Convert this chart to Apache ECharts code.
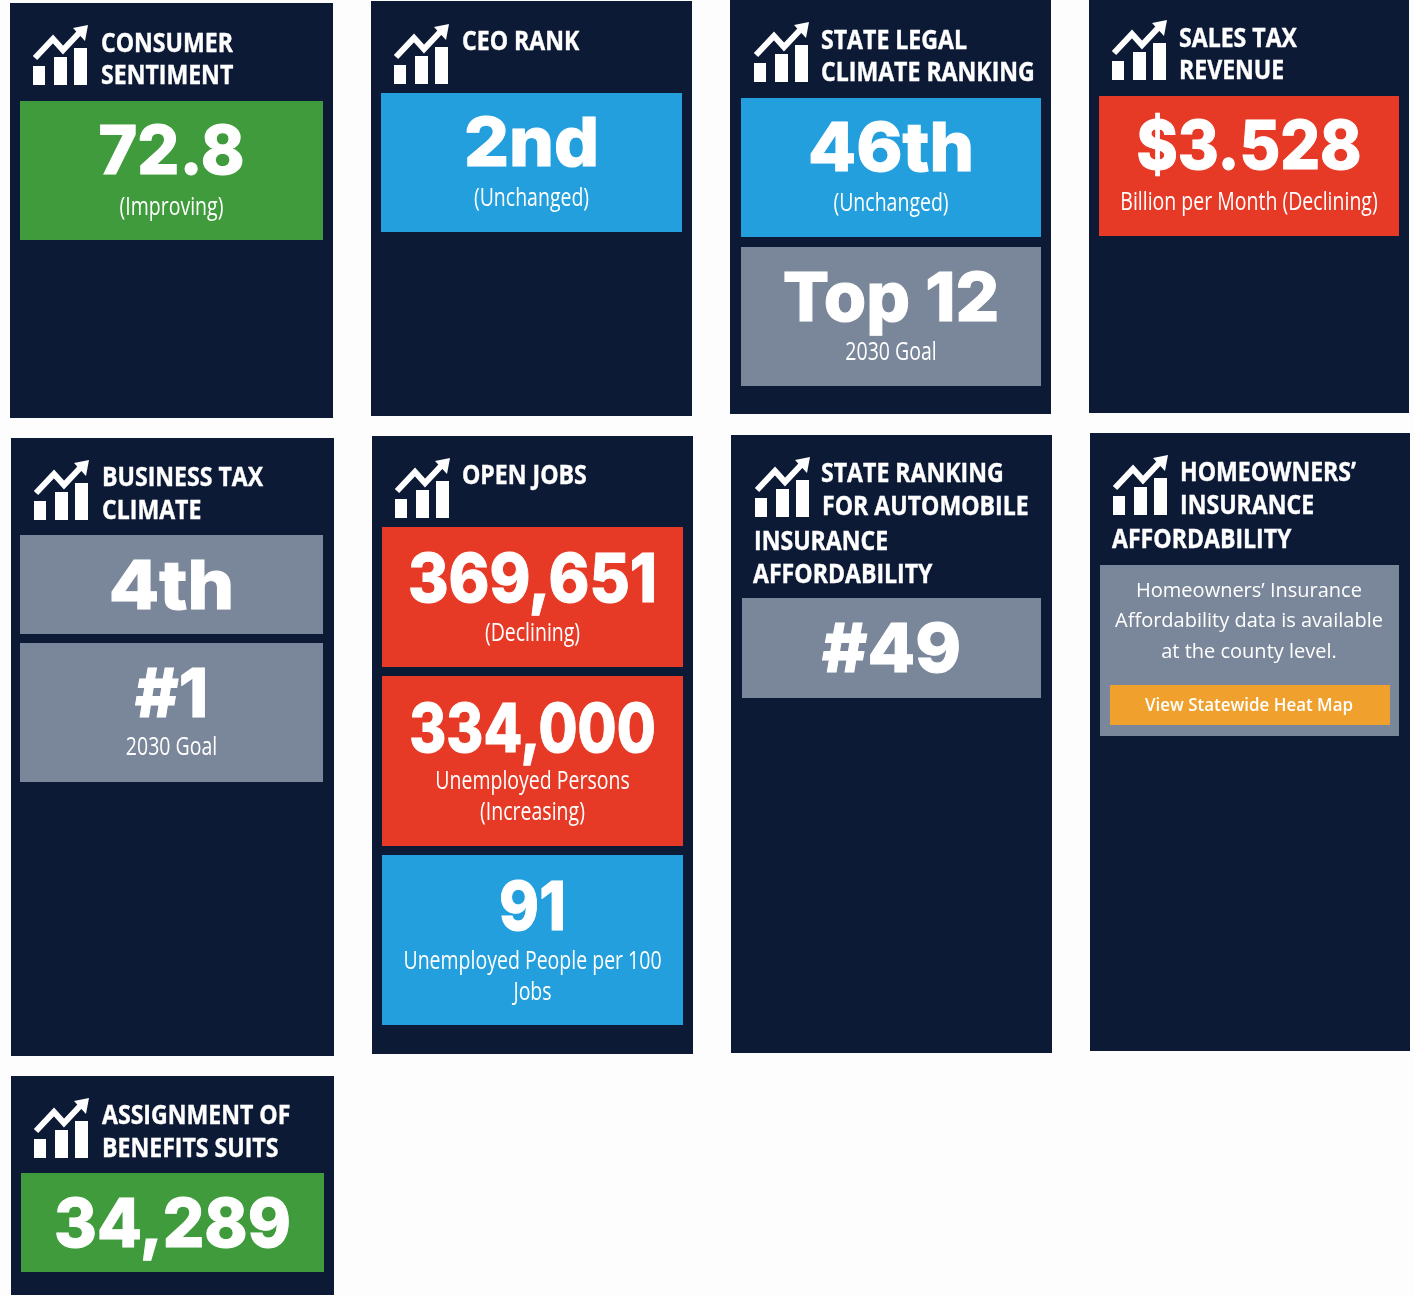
<!DOCTYPE html>
<html>

	<head>
		<meta charset="UTF-8">
		<title>Scorecard</title>
		<style>
			html, body { margin: 0; padding: 0; background: #fdfdfd; }
		</style>
		<script src="https://cdn.jsdelivr.net/npm/echarts@6/dist/echarts.min.js"></script>
	</head>

	<body>
		<div id="board" style="width: 1414px; height: 1295px;"></div>
		<script type="text/javascript">
			// what the cards say
			var cardTitles = [
				['CONSUMER', 'SENTIMENT'],
				['CEO RANK'],
				['STATE LEGAL', 'CLIMATE RANKING'],
				['SALES TAX', 'REVENUE'],
				['BUSINESS TAX', 'CLIMATE'],
				['OPEN JOBS'],
				['STATE RANKING', 'FOR AUTOMOBILE', 'INSURANCE', 'AFFORDABILITY'],
				['HOMEOWNERS\u2019', 'INSURANCE', 'AFFORDABILITY'],
				['ASSIGNMENT OF', 'BENEFITS SUITS']
			];
			var tileValues = ['72.8', '2nd', '46th', 'Top 12', '$3.528', '4th', '#1', '369,651', '334,000', '91', '#49', '34,289'];
			var tileNotes = [
				['(Improving)'],
				['(Unchanged)'],
				['(Unchanged)'],
				['2030 Goal'],
				['Billion per Month (Declining)'],
				[],
				['2030 Goal'],
				['(Declining)'],
				['Unemployed Persons', '(Increasing)'],
				['Unemployed People per 100', 'Jobs'],
				[],
				[]
			];
			var heatMapText = ['Homeowners\u2019 Insurance', 'Affordability data is available', 'at the county level.'];
			var heatMapButton = 'View Statewide Heat Map';

			// where things go: [x, y, w, h]
			var cardBoxes = [
				[10, 3, 323, 415], [371, 1, 321, 415], [730, 0, 321, 414], [1089, 0, 320, 413],
				[11, 438, 323, 618], [372, 436, 321, 618], [731, 435, 321, 618], [1090, 433, 320, 618],
				[11, 1076, 323, 225]
			];
			var iconSpots = [[33, 25], [394, 24], [754, 22], [1112, 20], [34, 460], [395, 458], [755, 457], [1113, 455], [34, 1098]];
			var titleSpots = [
				[[101, 44], [101, 76]],
				[[462, 42]],
				[[821, 41], [821, 73]],
				[[1179, 39], [1179, 71]],
				[[102, 478], [102, 511]],
				[[462, 476]],
				[[821, 474], [822, 507], [754, 542], [753, 575]],
				[[1180, 473], [1180, 506], [1112, 540]],
				[[102, 1116], [102, 1149]]
			];
			var tileBoxes = [
				[20, 101, 303, 139], [381, 93, 301, 139], [741, 98, 300, 139], [741, 247, 300, 139],
				[1099, 96, 300, 140], [20, 535, 303, 99], [20, 643, 303, 139], [382, 527, 301, 140],
				[382, 676, 301, 170], [382, 855, 301, 170], [742, 598, 299, 100], [21, 1173, 303, 99]
			];
			var tileColors = ['#3f9b3c', '#229fdc', '#229fdc', '#7a8699', '#e63a26', '#7a8699', '#7a8699', '#e63a26', '#e63a26', '#229fdc', '#7a8699', '#3f9b3c'];
			var valueMiddles = [154, 146, 151, 301, 149, 589, 697, 582, 732, 910, 652, 1227];
			var valueSqueeze = [0.97, 1.04, 1.03, 1.01, 0.92, 1.08, 0.98, 0.91, 0.83, 0.89, 1.02, 0.96];
			var noteMiddles = [[208], [199], [204], [353], [203], [], [748], [634], [782, 813], [962, 993], [], []];

			var navy = '#0c1a36';
			var titleFont = '700 27px "Open Sans"';
			var valueFont = '800 68px Inter';
			var noteFont = '400 26px "Open Sans"';

			var board = echarts.init(document.getElementById('board'), null, { renderer: 'canvas' });
			var items = [];

			function addBox(b, color) {
				items.push({
					type: 'rect',
					shape: { x: b[0], y: b[1], width: b[2], height: b[3] },
					style: { fill: color }
				});
			}

			function addText(str, x, y, font, squeeze, align, thicken) {
				items.push({
					type: 'text',
					x: x,
					y: y,
					scaleX: squeeze,
					style: {
						text: str, x: 0, y: 0, font: font, fill: '#fff', align: align, verticalAlign: 'middle',
						stroke: thicken ? '#fff' : null, lineWidth: thicken || 0
					}
				});
			}

			function addIcon(p) {
				var white = { fill: '#fff' };
				items.push({
					type: 'group',
					x: p[0],
					y: p[1],
					children: [
						{ type: 'rect', shape: { x: 0, y: 41, width: 12, height: 19 }, style: white },
						{ type: 'rect', shape: { x: 21, y: 32, width: 13, height: 28 }, style: white },
						{ type: 'rect', shape: { x: 41, y: 23, width: 13, height: 37 }, style: white },
						{
							type: 'polyline',
							shape: { points: [[2, 33], [20, 14], [30, 25], [47, 7]] },
							style: { stroke: '#fff', lineWidth: 6, fill: null }
						},
						{ type: 'polygon', shape: { points: [[55, 0], [40, 3], [52, 16]] }, style: white }
					]
				});
			}

			cardBoxes.forEach(function(b, i) {
				addBox(b, navy);
				addIcon(iconSpots[i]);
				cardTitles[i].forEach(function(line, j) {
					addText(line, titleSpots[i][j][0], titleSpots[i][j][1], titleFont, 0.855, 'left', 0.4);
				});
			});

			tileBoxes.forEach(function(b, i) {
				addBox(b, tileColors[i]);
				var mid = b[0] + b[2] / 2;
				addText(tileValues[i], mid, valueMiddles[i], valueFont, valueSqueeze[i], 'center', 1);
				tileNotes[i].forEach(function(line, j) {
					addText(line, mid, noteMiddles[i][j], noteFont, 0.75, 'center');
				});
			});

			// the homeowners card has a text block and a button instead of a number
			addBox([1100, 565, 299, 171], '#7a8699');
			heatMapText.forEach(function(line, j) {
				addText(line, 1249, [591, 621, 652][j], '400 20px "Open Sans"', 1, 'center');
			});
			addBox([1110, 685, 280, 40], '#f0a02c');
			addText(heatMapButton, 1249, 706, '600 18px "Open Sans"', 0.94, 'center');

			board.setOption({
				backgroundColor: '#fdfdfd',
				animation: false,
				graphic: { elements: items }
			});
		</script>

	</body>

</html>
